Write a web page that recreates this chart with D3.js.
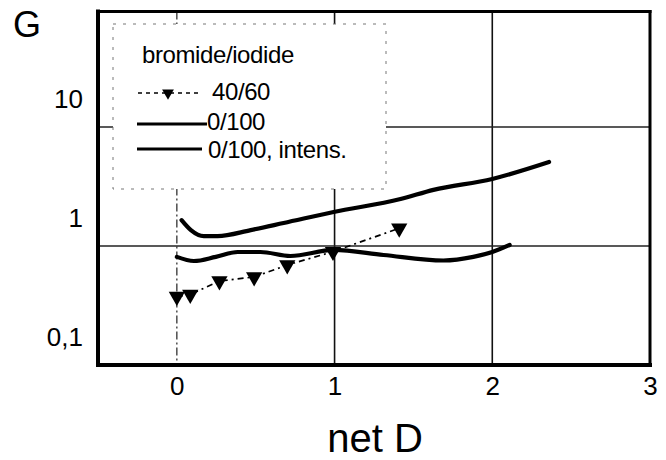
<!DOCTYPE html>
<html>
<head>
<meta charset="utf-8">
<script src="https://cdn.jsdelivr.net/npm/d3@7/dist/d3.min.js"></script>
<style>
  html, body { margin: 0; padding: 0; background: #fff; }
  svg { display: block; font-family: "Liberation Sans", Arial, Helvetica, sans-serif; }
</style>
</head>
<body>
<svg id="chart" width="666" height="460"></svg>
<script>
// G versus net D (log scale), bromide/iodide series
const xTicks = [0, 1, 2, 3];
const yTicks = [0.1, 1, 10];

// 40/60 (dashed, triangle markers)
const s4060X = [0, 0.085, 0.27, 0.49, 0.70, 0.99, 1.41];
const s4060G = [0.376, 0.391, 0.508, 0.549, 0.692, 0.896, 1.41];

// 0/100 (solid)
const s0100X = [0, 0.108, 0.247, 0.386, 0.53, 0.72, 0.994, 1.31, 1.69, 1.88, 2.0, 2.11];
const s0100G = [0.81, 0.748, 0.81, 0.89, 0.89, 0.824, 0.926, 0.84, 0.755, 0.81, 0.89, 1.02];

// 0/100, intens. (solid)
const sIntX = [0.03, 0.089, 0.171, 0.258, 0.468, 0.677, 0.994, 1.418, 1.627, 2.0, 2.36];
const sIntG = [1.65, 1.36, 1.21, 1.21, 1.36, 1.56, 1.93, 2.48, 2.96, 3.66, 5.08];

const legendTitle = "bromide/iodide";
const legendLabels = ["40/60", "0/100", "0/100, intens."];

const svg = d3.select("#chart");
const mLeft = 98, mRight = 650, mTop = 11.5, mBottom = 365;

const x = d3.scaleLinear().domain([-0.5, 3]).range([mLeft, mRight]);
const y = d3.scaleLog().domain([0.1, 93.4]).range([mBottom, mTop]);

// grid
const grid = svg.append("g");
grid.selectAll("line.gx").data([1, 2]).join("line")
  .attr("x1", d => x(d)).attr("x2", d => x(d))
  .attr("y1", mTop).attr("y2", mBottom)
  .attr("stroke", "#111").attr("stroke-width", 1.6);
grid.append("line")
  .attr("x1", x(0)).attr("x2", x(0)).attr("y1", mTop).attr("y2", mBottom)
  .attr("stroke", "#222").attr("stroke-width", 1.2)
  .attr("stroke-dasharray", "8,3,2,3");
grid.selectAll("line.gy").data([1, 10]).join("line")
  .attr("x1", mLeft).attr("x2", mRight)
  .attr("y1", d => y(d)).attr("y2", d => y(d))
  .attr("stroke", "#222").attr("stroke-width", 1.3);

// legend box (covers part of the grid)
const lg = svg.append("g");
lg.append("rect")
  .attr("x", 113).attr("y", 24).attr("width", 273).attr("height", 165)
  .attr("fill", "#fff").attr("stroke", "#777").attr("stroke-width", 1)
  .attr("stroke-dasharray", "3,7");

// series
const line = d3.line().x(d => x(d[0])).y(d => y(d[1])).curve(d3.curveMonotoneX);

const zip = (a, b) => a.map((v, i) => [v, b[i]]);
const p4060 = zip(s4060X, s4060G);
const p0100 = zip(s0100X, s0100G);
const pInt = zip(sIntX, sIntG);

svg.append("path").datum(p0100).attr("d", line)
  .attr("fill", "none").attr("stroke", "#000").attr("stroke-width", 4.2)
  .attr("stroke-linecap", "round");
svg.append("path").datum(pInt).attr("d", line)
  .attr("fill", "none").attr("stroke", "#000").attr("stroke-width", 4.2)
  .attr("stroke-linecap", "round");
svg.append("path").datum(p4060).attr("d", d3.line().x(d => x(d[0])).y(d => y(d[1])))
  .attr("fill", "none").attr("stroke", "#000").attr("stroke-width", 1.7)
  .attr("stroke-dasharray", "6,4,2,4");

const tri = d3.symbol().type(d3.symbolTriangle).size(115);
svg.selectAll("path.m").data(p4060).join("path")
  .attr("d", tri)
  .attr("transform", d => `translate(${x(d[0])},${y(d[1])}) rotate(180)`)
  .attr("fill", "#000");

// frame
const frame = svg.append("g").attr("stroke", "#000").attr("stroke-linecap", "square");
frame.append("line").attr("x1", mLeft).attr("x2", mLeft).attr("y1", mTop).attr("y2", mBottom).attr("stroke-width", 4);
frame.append("line").attr("x1", mLeft).attr("x2", mRight).attr("y1", mBottom).attr("y2", mBottom).attr("stroke-width", 4);
frame.append("line").attr("x1", mLeft).attr("x2", mRight).attr("y1", mTop).attr("y2", mTop).attr("stroke-width", 3);
frame.append("line").attr("x1", mRight).attr("x2", mRight).attr("y1", mTop).attr("y2", mBottom).attr("stroke-width", 3);

// axes
const xAxis = svg.append("g").attr("transform", `translate(0,${mBottom})`)
  .call(d3.axisBottom(x).tickValues(xTicks).tickSize(0).tickPadding(11.5).tickFormat(d3.format("d")));
xAxis.select(".domain").remove();
xAxis.selectAll("text").attr("font-size", 26).attr("fill", "#000")
  .attr("font-family", "'Liberation Sans', Arial, sans-serif");

const yFmt = d => String(d).replace(".", ",");
const yAxis = svg.append("g").attr("transform", `translate(${mLeft},0)`)
  .call(d3.axisLeft(y).tickValues(yTicks).tickSize(0).tickPadding(15).tickFormat(yFmt));
yAxis.select(".domain").remove();
yAxis.selectAll("text").attr("font-size", 26).attr("fill", "#000").attr("y", -28)
  .attr("font-family", "'Liberation Sans', Arial, sans-serif");

// axis titles
svg.append("text").attr("x", 13).attr("y", 37).attr("font-size", 36).text("G");
svg.append("text").attr("x", 375).attr("y", 452).attr("font-size", 40)
  .attr("text-anchor", "middle").text("net D");

// legend content
const lt = lg.append("g").attr("font-size", 24).attr("letter-spacing", -0.4).attr("fill", "#000");
lt.append("text").attr("x", 142).attr("y", 63).text(legendTitle);

lg.append("line").attr("x1", 138).attr("x2", 198).attr("y1", 93).attr("y2", 93)
  .attr("stroke", "#000").attr("stroke-width", 1.6).attr("stroke-dasharray", "4,4");
lg.append("path").attr("d", d3.symbol().type(d3.symbolTriangle).size(60))
  .attr("transform", "translate(168,93) rotate(180)").attr("fill", "#000");
lt.append("text").attr("x", 212).attr("y", 100).text(legendLabels[0]);

lg.append("line").attr("x1", 137).attr("x2", 207).attr("y1", 124).attr("y2", 124)
  .attr("stroke", "#000").attr("stroke-width", 3);
lt.append("text").attr("x", 207).attr("y", 130).text(legendLabels[1]);

lg.append("line").attr("x1", 137).attr("x2", 202).attr("y1", 149).attr("y2", 149)
  .attr("stroke", "#000").attr("stroke-width", 3);
lt.append("text").attr("x", 208).attr("y", 158).text(legendLabels[2]);
</script>
</body>
</html>
